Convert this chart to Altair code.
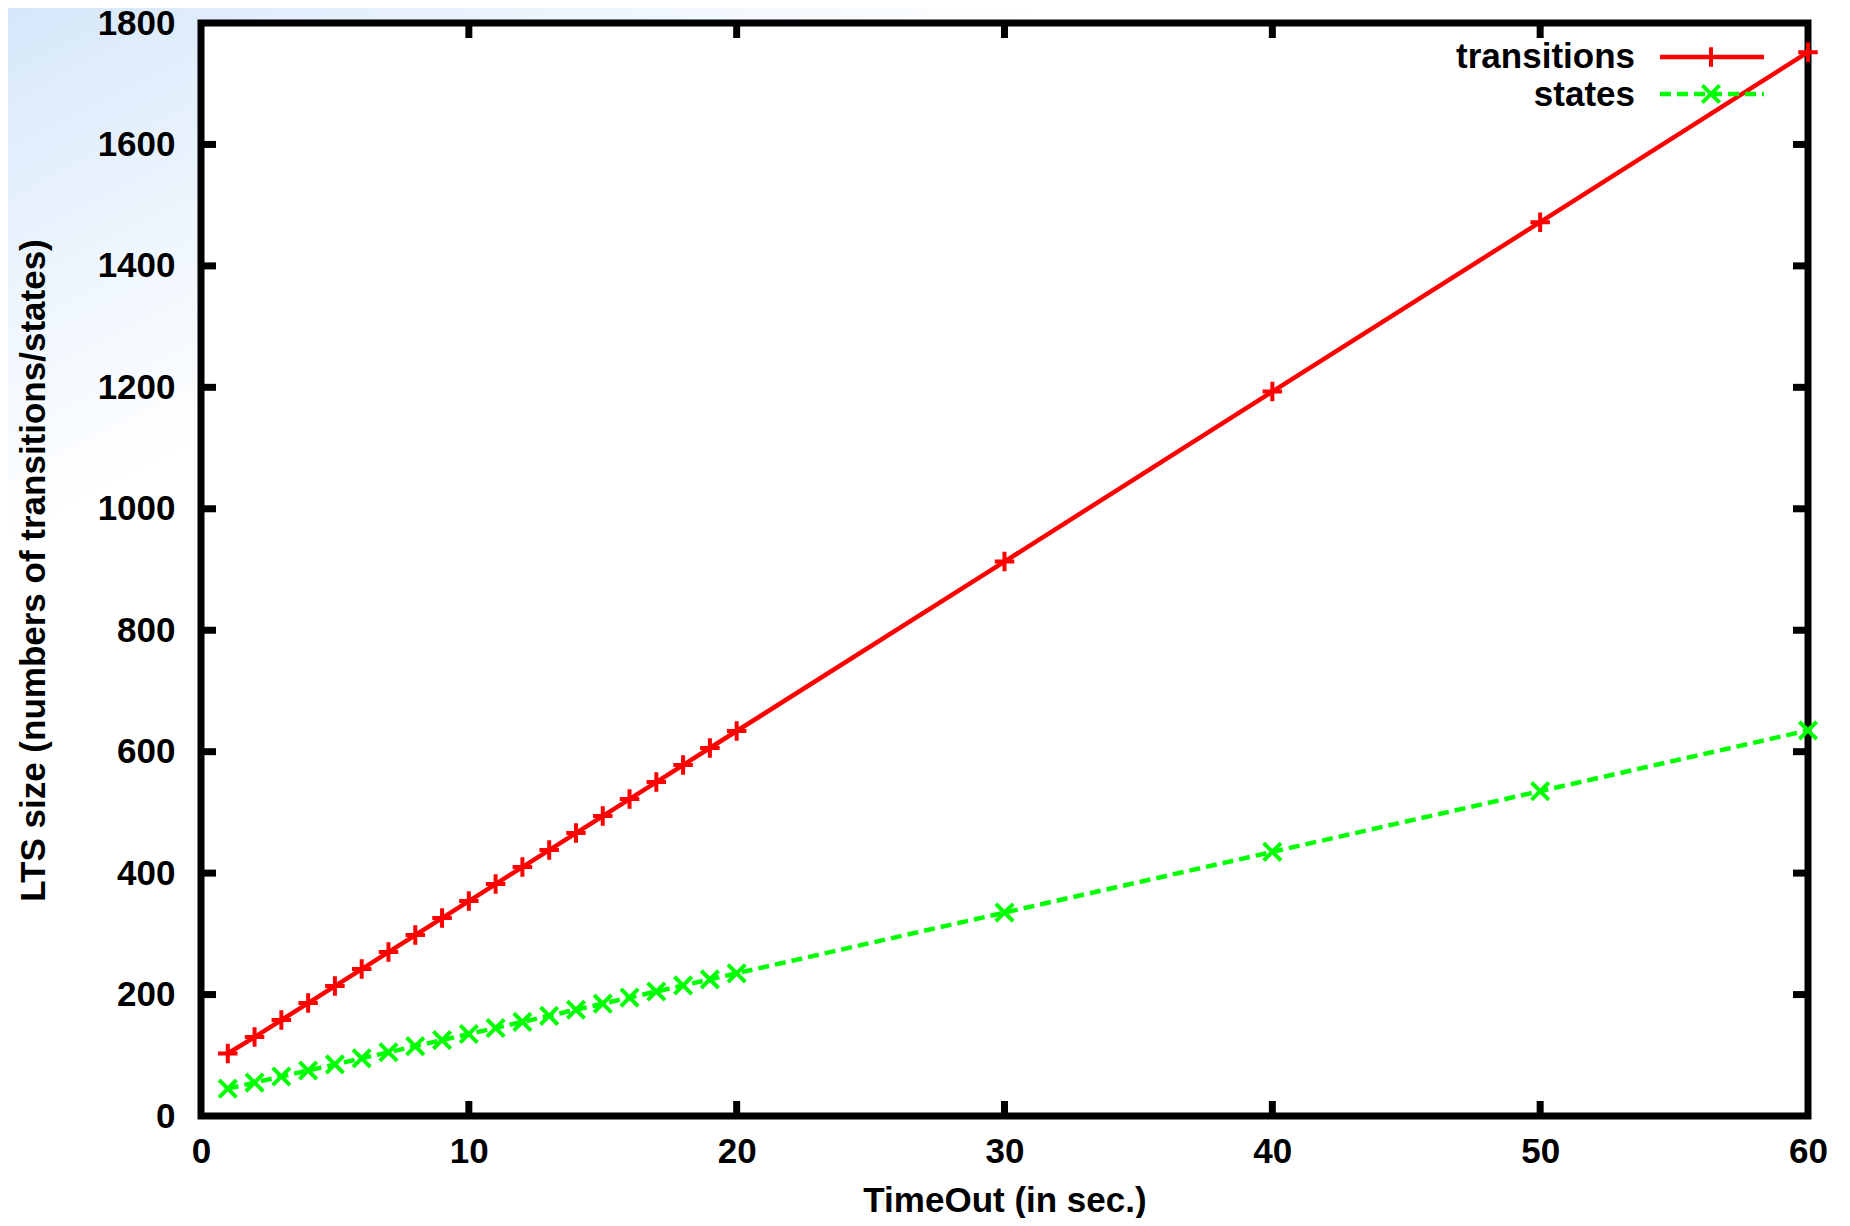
import altair as alt
import pandas as pd

# ---- data ----
timeout = [1, 2, 3, 4, 5, 6, 7, 8, 9, 10, 11, 12, 13, 14, 15, 16, 17, 18, 19, 20, 30, 40, 50, 60]
transitions = [103, 130, 158, 186, 214, 242, 270, 298, 326, 354, 382, 410, 438, 466, 494,
               522, 550, 578, 606, 634, 913, 1193, 1472, 1752]
states = [45, 55, 65, 75, 85, 95, 105, 115, 125, 135, 145, 155, 165, 175, 185,
          195, 205, 215, 225, 235, 335, 435, 535, 635]
series_names = ["transitions", "states"]
x_ticks = [0, 10, 20, 30, 40, 50, 60]
y_ticks = [0, 200, 400, 600, 800, 1000, 1200, 1400, 1600, 1800]

W, H = 1607, 1093
FONT = "Liberation Sans"
RED = "#ff0000"
GREEN = "#00ff00"
PLUS = "M-1,0L1,0M0,-1L0,1"
CROSS = "M-1,-1L1,1M-1,1L1,-1"
LW = 4.5
MW = 4
PSIZE = 380
XSIZE = 300
DASH = [11, 6]

df = pd.DataFrame({"t": timeout, "transitions": transitions, "states": states})
one = pd.DataFrame({"a": [0]})
xt_df = pd.DataFrame({"v": x_ticks[1:-1]})
yt_df = pd.DataFrame({"v": y_ticks[1:-1]})

xs = alt.Scale(domain=[x_ticks[0], x_ticks[-1]], nice=False, zero=False)
ys = alt.Scale(domain=[y_ticks[0], y_ticks[-1]], nice=False)

X_AX = alt.Axis(values=x_ticks, title="TimeOut (in sec.)", format="d", labelPadding=18,
                labelFlush=False, labelOverlap=False, titleY=84, titleBaseline="middle",
                titleAlign="center", titleX=W / 2, zindex=2)
Y_AX = alt.Axis(values=y_ticks, title="LTS size (numbers of transitions/states)", format="d",
                labelPadding=26, labelFlush=False, labelOverlap=False, titleX=-168, titleY=547,
                titleAngle=-90, titleAlign="center", titleBaseline="middle", zindex=2)


def X(field):
    return alt.X(field, scale=xs, axis=X_AX)


def Y(field):
    return alt.Y(field, scale=ys, axis=Y_AX)


# background decoration (page gradient) and white plot area
grad = alt.Chart(one).mark_rect(
    fill=alt.Gradient(gradient="linear", x1=0, y1=0, x2=1, y2=1,
                      stops=[alt.GradientStop(color="#d6e7fa", offset=0),
                             alt.GradientStop(color="#ebf4fd", offset=0.25),
                             alt.GradientStop(color="#ffffff", offset=0.5)])
).encode(x=alt.value(-193), x2=alt.value(850), y=alt.value(-15), y2=alt.value(520))

white = alt.Chart(one).mark_rect(fill="white").encode(
    x=alt.value(0), x2=alt.value(W), y=alt.value(0), y2=alt.value(H))

# inward ticks on all four sides
TK = dict(size=30, thickness=7, color="black", clip=True, opacity=1)
xt_bottom = alt.Chart(xt_df).mark_tick(orient="vertical", **TK).encode(
    x=X("v:Q"), y=alt.datum(y_ticks[0]))
xt_top = alt.Chart(xt_df).mark_tick(orient="vertical", **TK).encode(
    x=X("v:Q"), y=alt.datum(y_ticks[-1]))
yt_left = alt.Chart(yt_df).mark_tick(orient="horizontal", **TK).encode(
    y=Y("v:Q"), x=alt.datum(x_ticks[0]))
yt_right = alt.Chart(yt_df).mark_tick(orient="horizontal", **TK).encode(
    y=Y("v:Q"), x=alt.datum(x_ticks[-1]))

frame = alt.Chart(one).mark_rect(filled=False, stroke="black", strokeWidth=7).encode(
    x=alt.value(0), x2=alt.value(W), y=alt.value(0), y2=alt.value(H))

base = alt.Chart(df)
tr_line = base.mark_line(color=RED, strokeWidth=LW).encode(x=X("t:Q"), y=Y("transitions:Q"))
tr_pts = base.mark_point(shape=PLUS, size=PSIZE, filled=False, stroke=RED, strokeWidth=MW,
                         opacity=1).encode(x=X("t:Q"), y=Y("transitions:Q"))
st_line = base.mark_line(color=GREEN, strokeWidth=LW, strokeDash=DASH).encode(
    x=X("t:Q"), y=Y("states:Q"))
st_pts = base.mark_point(shape=CROSS, size=XSIZE, filled=False, stroke=GREEN, strokeWidth=MW,
                         opacity=1).encode(x=X("t:Q"), y=Y("states:Q"))

# legend (top right, inside the plot)
leg = alt.Chart(one)
TXT = dict(align="right", baseline="alphabetic", font=FONT, fontSize=35,
           fontWeight="bold", color="black")
leg_t1 = leg.mark_text(**TXT).encode(
    x=alt.value(1434), y=alt.value(45), text=alt.value(series_names[0]))
leg_t2 = leg.mark_text(**TXT).encode(
    x=alt.value(1434), y=alt.value(83), text=alt.value(series_names[1]))
leg_l1 = leg.mark_rule(color=RED, strokeWidth=LW).encode(
    x=alt.value(1459), x2=alt.value(1563), y=alt.value(34))
leg_l2 = leg.mark_rule(color=GREEN, strokeWidth=LW, strokeDash=DASH).encode(
    x=alt.value(1459), x2=alt.value(1563), y=alt.value(71))
leg_p1 = leg.mark_point(shape=PLUS, size=PSIZE, filled=False, stroke=RED, strokeWidth=MW,
                        opacity=1).encode(x=alt.value(1510), y=alt.value(34))
leg_p2 = leg.mark_point(shape=CROSS, size=XSIZE, filled=False, stroke=GREEN, strokeWidth=MW,
                        opacity=1).encode(x=alt.value(1510), y=alt.value(71))

chart = alt.layer(
    grad, white, xt_bottom, xt_top, yt_left, yt_right, frame,
    tr_line, st_line, tr_pts, st_pts,
    leg_l1, leg_l2, leg_p1, leg_p2, leg_t1, leg_t2
).properties(
    width=W, height=H,
    autosize=alt.AutoSizeParams(type="none"),
    padding={"left": 193, "top": 15, "right": 34, "bottom": 102},
    background="white",
).configure_view(stroke=None).configure_axis(
    labelFont=FONT, labelFontSize=35, labelFontWeight="bold", labelColor="black",
    titleFont=FONT, titleFontSize=35, titleFontWeight="bold", titleColor="black",
    ticks=False, domain=False, grid=False,
)

chart.save("out.html", embed_options={"renderer": "svg", "actions": False})
